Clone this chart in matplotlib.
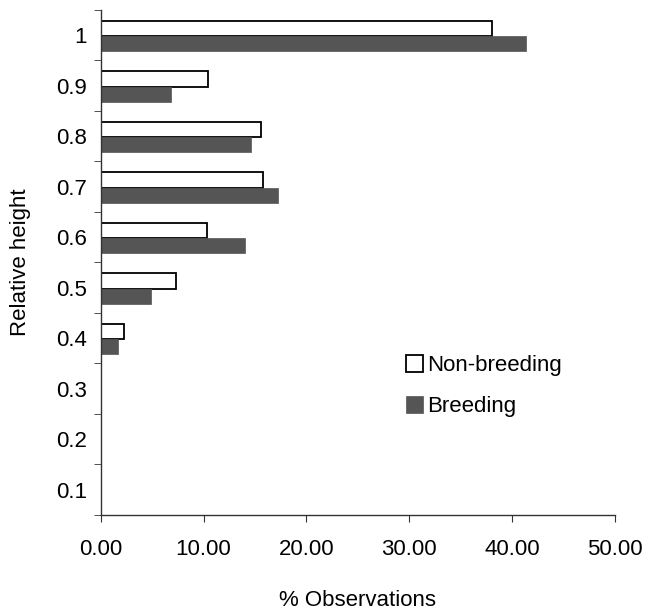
import numpy as np
import matplotlib.pyplot as plt

plt.rcParams['font.family'] = ['Liberation Sans', 'DejaVu Sans']

# relative height classes, bottom to top
heights = ['0.1', '0.2', '0.3', '0.4', '0.5', '0.6', '0.7', '0.8', '0.9', '1']
non_breeding = [0, 0, 0, 2.3, 7.3, 10.3, 15.8, 15.6, 10.4, 38.0]
breeding = [0, 0, 0, 1.7, 4.9, 14.0, 17.2, 14.6, 6.8, 41.4]

fig = plt.figure(figsize=(6.5, 6.13), dpi=100)
ax = fig.add_axes([0.155, 0.160, 0.791, 0.824])

y = np.arange(len(heights)) + 0.5
bh = 0.3
ax.barh(y + bh / 2 - 0.02, non_breeding, height=bh, color='white',
        edgecolor='black', linewidth=1.3, label='Non-breeding')
ax.barh(y - bh / 2 - 0.02, breeding, height=bh, color='#555555',
        edgecolor='#555555', linewidth=0.5, label='Breeding')

ax.set_xlim(0, 50)
ax.set_ylim(0, len(heights))
ax.set_yticks(y)
ax.set_yticklabels(heights)
ax.set_yticks(np.arange(len(heights) + 1), minor=True)
ax.tick_params(axis='y', which='major', length=0, labelsize=16, pad=10)
ax.tick_params(axis='y', which='minor', length=5, direction='out', color='#333333')
ax.set_xticks([0, 10, 20, 30, 40, 50])
ax.set_xticklabels(['%.2f' % v for v in [0, 10, 20, 30, 40, 50]])
ax.tick_params(axis='x', length=5, labelsize=16, pad=12, color='#333333')

for s in ['top', 'right']:
    ax.spines[s].set_visible(False)
for s in ['left', 'bottom']:
    ax.spines[s].set_color('#333333')
    ax.spines[s].set_linewidth(1.0)

ax.set_xlabel('% Observations', fontsize=16, labelpad=22)
ax.set_ylabel('Relative height', fontsize=16, labelpad=18)

ax.legend(loc='center left', bbox_to_anchor=(0.555, 0.255), frameon=False,
          fontsize=16, handlelength=0.75, handleheight=0.75, handletextpad=0.2,
          labelspacing=0.9)

fig.savefig('out.png', dpi=100)
